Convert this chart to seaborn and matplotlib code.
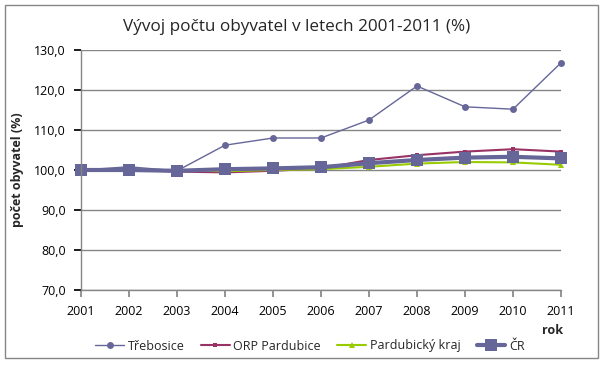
import matplotlib
matplotlib.use("Agg")
import matplotlib.pyplot as plt
import seaborn as sns
import pandas as pd
from matplotlib.patches import Rectangle
from matplotlib.ticker import FuncFormatter

years = [2001, 2002, 2003, 2004, 2005, 2006, 2007, 2008, 2009, 2010, 2011]
trebosice = [100.0, 100.8, 99.8, 106.2, 108.0, 108.0, 112.5, 121.0, 115.8, 115.2, 126.8]
orp = [100.0, 100.0, 99.6, 99.4, 99.8, 100.4, 102.5, 103.7, 104.6, 105.2, 104.6]
kraj = [100.0, 100.0, 99.9, 99.7, 100.0, 100.2, 100.8, 101.6, 102.0, 101.9, 101.3]
cr = [100.0, 100.0, 99.8, 100.2, 100.4, 100.7, 101.7, 102.5, 103.1, 103.3, 102.9]

series = ["Třebosice", "ORP Pardubice", "Pardubický kraj", "ČR"]
colors = ["#666699", "#993366", "#99CC00", "#666699"]
markers = ["o", "s", "^", "s"]
msizes = [5, 3.5, 4, 9]
lws = [1.0, 1.5, 1.5, 3.0]
values = [trebosice, orp, kraj, cr]

sns.set_theme(style="white")
plt.rcParams["font.family"] = ["Open Sans", "DejaVu Sans"]

fig = plt.figure(figsize=(6.06, 3.66), dpi=100)
ax = fig.add_axes([81 / 606, 1 - 290 / 366, (561 - 81) / 606, 240 / 366])

for name, vals, c, m, ms, lw in zip(series, values, colors, markers, msizes, lws):
    df = pd.DataFrame({"rok": years, "v": vals})
    sns.lineplot(data=df, x="rok", y="v", ax=ax, color=c, marker=m, markersize=ms,
                 linewidth=lw, markeredgewidth=0, label=name, clip_on=False)

ax.set_xlim(2001, 2011)
ax.set_ylim(70, 130)
ax.set_xticks(years)
ax.set_yticks(range(70, 131, 10))
ax.yaxis.set_major_formatter(FuncFormatter(lambda v, p: f"{v:.1f}".replace(".", ",")))
ax.grid(axis="y", color="#868686", linewidth=1)
ax.set_axisbelow(True)
for s in ["top", "right"]:
    ax.spines[s].set_visible(False)
for s in ["left", "bottom"]:
    ax.spines[s].set_color("#868686")
    ax.spines[s].set_linewidth(1)
ax.tick_params(axis="both", which="major", length=5, color="#868686", direction="out",
               labelsize=9, colors="black", bottom=True, left=True, pad=6)
ax.tick_params(axis="y", colors="black")
ax.set_xlabel("")
ax.set_ylabel("počet obyvatel (%)", fontsize=9, fontweight="bold", labelpad=7)

fig.text(0.49, 1 - 27 / 366, "Vývoj počtu obyvatel v letech 2001-2011 (%)", ha="center", va="center",
         fontsize=12.3, fontweight="medium")
fig.text(553 / 606, 1 - 330 / 366, "rok", ha="center", va="center", fontsize=9, fontweight="bold")

ax.legend(loc="center", bbox_to_anchor=(310 / 606, 1 - 346 / 366), bbox_transform=fig.transFigure,
          ncol=4, frameon=False, fontsize=9, handlelength=2.3, columnspacing=1.3, handletextpad=0.3)

fig.patches.append(Rectangle((5 / 606, 1 - 358 / 366), 593 / 606, 353 / 366, transform=fig.transFigure,
                             fill=False, edgecolor="#868686", linewidth=1))

fig.savefig("out.png", dpi=100)
